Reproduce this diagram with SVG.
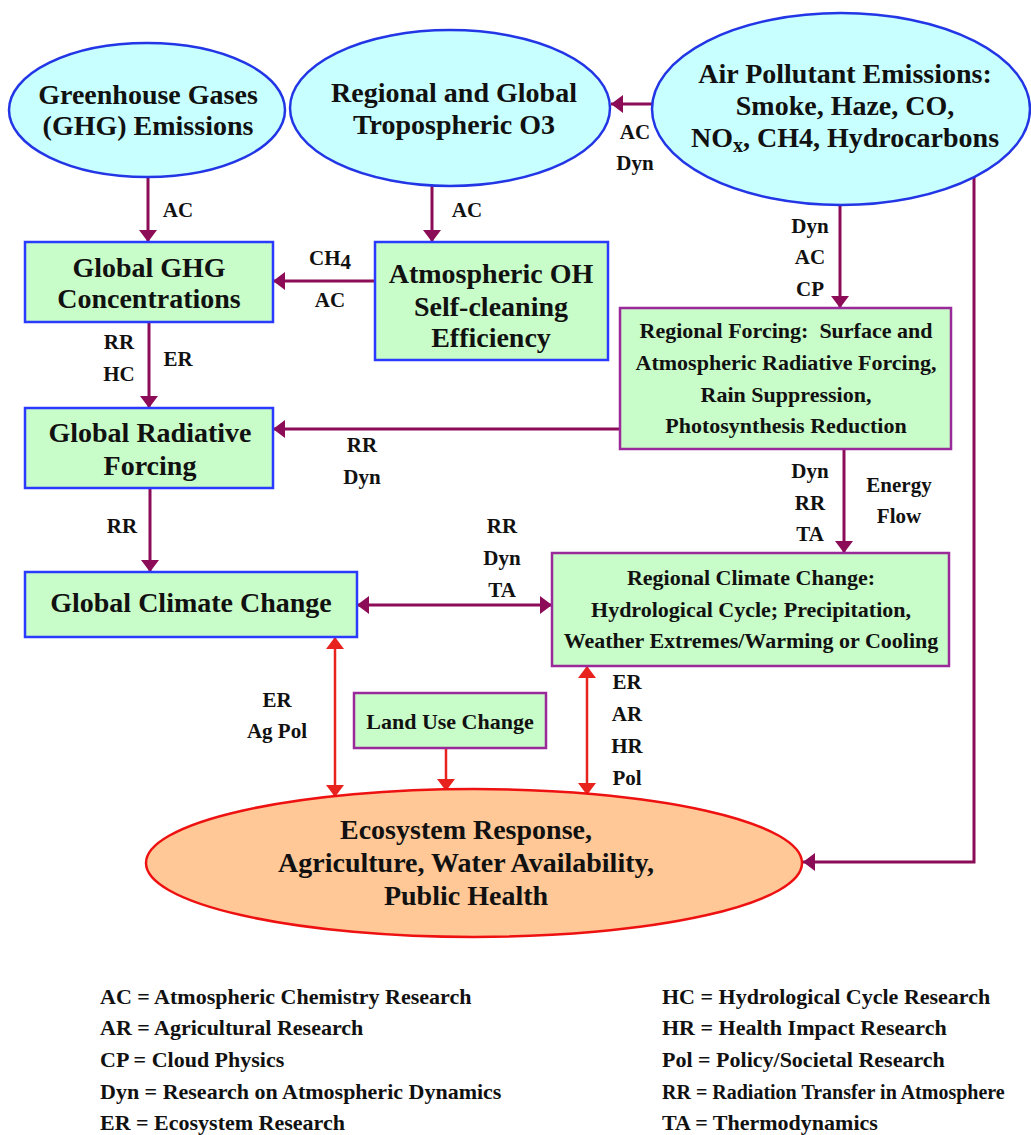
<svg xmlns="http://www.w3.org/2000/svg" width="1031" height="1135" viewBox="0 0 1031 1135">
<style>
text{font-family:"Liberation Serif","DejaVu Serif",serif;font-weight:bold;fill:#111;text-anchor:middle}
.t28{font-size:28px}
.t22{font-size:22px}
.lab{font-size:21px}
.leg{font-size:22px;text-anchor:start}
.ell{fill:#c8ffff;stroke:#2336e6;stroke-width:2.5}
.bbox{fill:#c8fcc8;stroke:#2a3aff;stroke-width:2.5}
.pbox{fill:#c8fcc8;stroke:#9a2a9a;stroke-width:2.5}
.eco{fill:#ffc896;stroke:#ee1111;stroke-width:2.5}
.pl{fill:none;stroke:#8c0c58;stroke-width:3}
.rl{fill:none;stroke:#e8231e;stroke-width:2.5}
</style>
<defs>
<marker id="pa" viewBox="0 0 12 18" refX="12" refY="9" markerWidth="12" markerHeight="18" markerUnits="userSpaceOnUse" orient="auto-start-reverse"><path d="M0,0 L12,9 L0,18 z" fill="#8c0c58"/></marker>
<marker id="ra" viewBox="0 0 12 18" refX="12" refY="9" markerWidth="12" markerHeight="18" markerUnits="userSpaceOnUse" orient="auto-start-reverse"><path d="M0,0 L12,9 L0,18 z" fill="#e8231e"/></marker>
</defs>
<rect width="1031" height="1135" fill="#ffffff"/>

<g id="connectors">
<line class="pl" x1="148" y1="177" x2="148" y2="242" marker-end="url(#pa)"/>
<line class="pl" x1="432" y1="186" x2="432" y2="242" marker-end="url(#pa)"/>
<line class="pl" x1="653" y1="104" x2="611" y2="104" marker-end="url(#pa)"/>
<line class="pl" x1="840" y1="205" x2="840" y2="308" marker-end="url(#pa)"/>
<line class="pl" x1="375" y1="281" x2="273" y2="281" marker-end="url(#pa)"/>
<line class="pl" x1="149" y1="322" x2="149" y2="408" marker-end="url(#pa)"/>
<line class="pl" x1="620" y1="429" x2="273" y2="429" marker-end="url(#pa)"/>
<line class="pl" x1="150" y1="488" x2="150" y2="572" marker-end="url(#pa)"/>
<line class="pl" x1="844" y1="449" x2="844" y2="553" marker-end="url(#pa)"/>
<line class="pl" x1="357" y1="605" x2="552" y2="605" marker-start="url(#pa)" marker-end="url(#pa)"/>
<path class="pl" d="M974,177 V862 H803" marker-end="url(#pa)"/>
<line class="rl" x1="335" y1="637" x2="335" y2="797" marker-start="url(#ra)" marker-end="url(#ra)"/>
<line class="rl" x1="446" y1="748" x2="446" y2="791" marker-end="url(#ra)"/>
<line class="rl" x1="587" y1="666" x2="587" y2="795" marker-start="url(#ra)" marker-end="url(#ra)"/>

<text class="lab" x="178" y="217">AC</text>
<text class="lab" x="467" y="217">AC</text>
<text class="lab" x="635" y="139">AC</text>
<text class="lab" x="635" y="170">Dyn</text>
<text class="lab" x="810" y="233">Dyn</text>
<text class="lab" x="810" y="264">AC</text>
<text class="lab" x="810" y="296">CP</text>
<text class="lab" x="330" y="265">CH<tspan dy="4">4</tspan></text>
<text class="lab" x="330" y="307">AC</text>
<text class="lab" x="119" y="349">RR</text>
<text class="lab" x="119" y="381">HC</text>
<text class="lab" x="178" y="366">ER</text>
<text class="lab" x="362" y="452">RR</text>
<text class="lab" x="362" y="484">Dyn</text>
<text class="lab" x="122" y="533">RR</text>
<text class="lab" x="810" y="478">Dyn</text>
<text class="lab" x="810" y="510">RR</text>
<text class="lab" x="810" y="541">TA</text>
<text class="lab" x="899" y="492">Energy</text>
<text class="lab" x="899" y="523">Flow</text>
<text class="lab" x="502" y="533">RR</text>
<text class="lab" x="502" y="565">Dyn</text>
<text class="lab" x="502" y="597">TA</text>
<text class="lab" x="277" y="707">ER</text>
<text class="lab" x="277" y="738">Ag Pol</text>
<text class="lab" x="627" y="689">ER</text>
<text class="lab" x="627" y="721">AR</text>
<text class="lab" x="627" y="753">HR</text>
<text class="lab" x="627" y="785">Pol</text>
</g>

<g id="ghg-emissions">
<ellipse class="ell" cx="147" cy="110" rx="138" ry="67"/>
<text class="t28" x="148" y="104">Greenhouse Gases</text>
<text class="t28" x="148" y="135">(GHG) Emissions</text>
</g>

<g id="tropospheric-o3">
<ellipse class="ell" cx="450" cy="108" rx="160" ry="78"/>
<text class="t28" x="454" y="102">Regional and Global</text>
<text class="t28" x="454" y="134">Tropospheric O3</text>
</g>

<g id="air-pollutant-emissions">
<ellipse class="ell" cx="841" cy="109" rx="189" ry="96"/>
<text class="t28" x="845" y="83">Air Pollutant Emissions:</text>
<text class="t28" x="845" y="115">Smoke, Haze, CO,</text>
<text class="t28" x="845" y="147">NO<tspan font-size="20" dy="5">x</tspan><tspan dy="-5">, CH4, Hydrocarbons</tspan></text>
</g>

<g id="global-ghg-concentrations">
<rect class="bbox" x="25" y="242" width="248" height="80"/>
<text class="t28" x="149" y="277">Global GHG</text>
<text class="t28" x="149" y="308">Concentrations</text>
</g>

<g id="atmospheric-oh">
<rect class="bbox" x="375" y="242" width="233" height="118"/>
<text class="t28" x="491" y="283">Atmospheric OH</text>
<text class="t28" x="491" y="316">Self-cleaning</text>
<text class="t28" x="491" y="347">Efficiency</text>
</g>

<g id="regional-forcing">
<rect class="pbox" x="620" y="308" width="331" height="141"/>
<text class="t22" x="786" y="338" xml:space="preserve">Regional Forcing:  Surface and</text>
<text class="t22" x="786" y="370">Atmospheric Radiative Forcing,</text>
<text class="t22" x="786" y="402">Rain Suppression,</text>
<text class="t22" x="786" y="433">Photosynthesis Reduction</text>
</g>

<g id="global-radiative-forcing">
<rect class="bbox" x="25" y="408" width="248" height="80"/>
<text class="t28" x="150" y="442">Global Radiative</text>
<text class="t28" x="150" y="475">Forcing</text>
</g>

<g id="global-climate-change">
<rect class="bbox" x="25" y="572" width="332" height="65"/>
<text class="t28" x="191" y="612">Global Climate Change</text>
</g>

<g id="regional-climate-change">
<rect class="pbox" x="552" y="553" width="397" height="113"/>
<text class="t22" x="751" y="585">Regional Climate Change:</text>
<text class="t22" x="751" y="617">Hydrological Cycle; Precipitation,</text>
<text class="t22" x="751" y="648">Weather Extremes/Warming or Cooling</text>
</g>

<g id="land-use-change">
<rect class="pbox" x="354" y="693" width="192" height="55"/>
<text class="t22" x="450" y="729">Land Use Change</text>
</g>

<g id="ecosystem-response">
<ellipse class="eco" cx="474" cy="863" rx="328" ry="74"/>
<text class="t28" x="466" y="839">Ecosystem Response,</text>
<text class="t28" x="466" y="872">Agriculture, Water Availability,</text>
<text class="t28" x="466" y="905">Public Health</text>
</g>

<g id="legend">
<text class="leg" x="100" y="1004">AC = Atmospheric Chemistry Research</text>
<text class="leg" x="100" y="1035">AR = Agricultural Research</text>
<text class="leg" x="100" y="1067">CP = Cloud Physics</text>
<text class="leg" x="100" y="1099">Dyn = Research on Atmospheric Dynamics</text>
<text class="leg" x="100" y="1130">ER = Ecosystem Research</text>
<text class="leg" x="662" y="1004">HC = Hydrological Cycle Research</text>
<text class="leg" x="662" y="1035">HR = Health Impact Research</text>
<text class="leg" x="662" y="1067">Pol = Policy/Societal Research</text>
<text class="leg" x="662" y="1099" style="font-size:20px">RR = Radiation Transfer in Atmosphere</text>
<text class="leg" x="662" y="1130">TA = Thermodynamics</text>
</g>
</svg>
